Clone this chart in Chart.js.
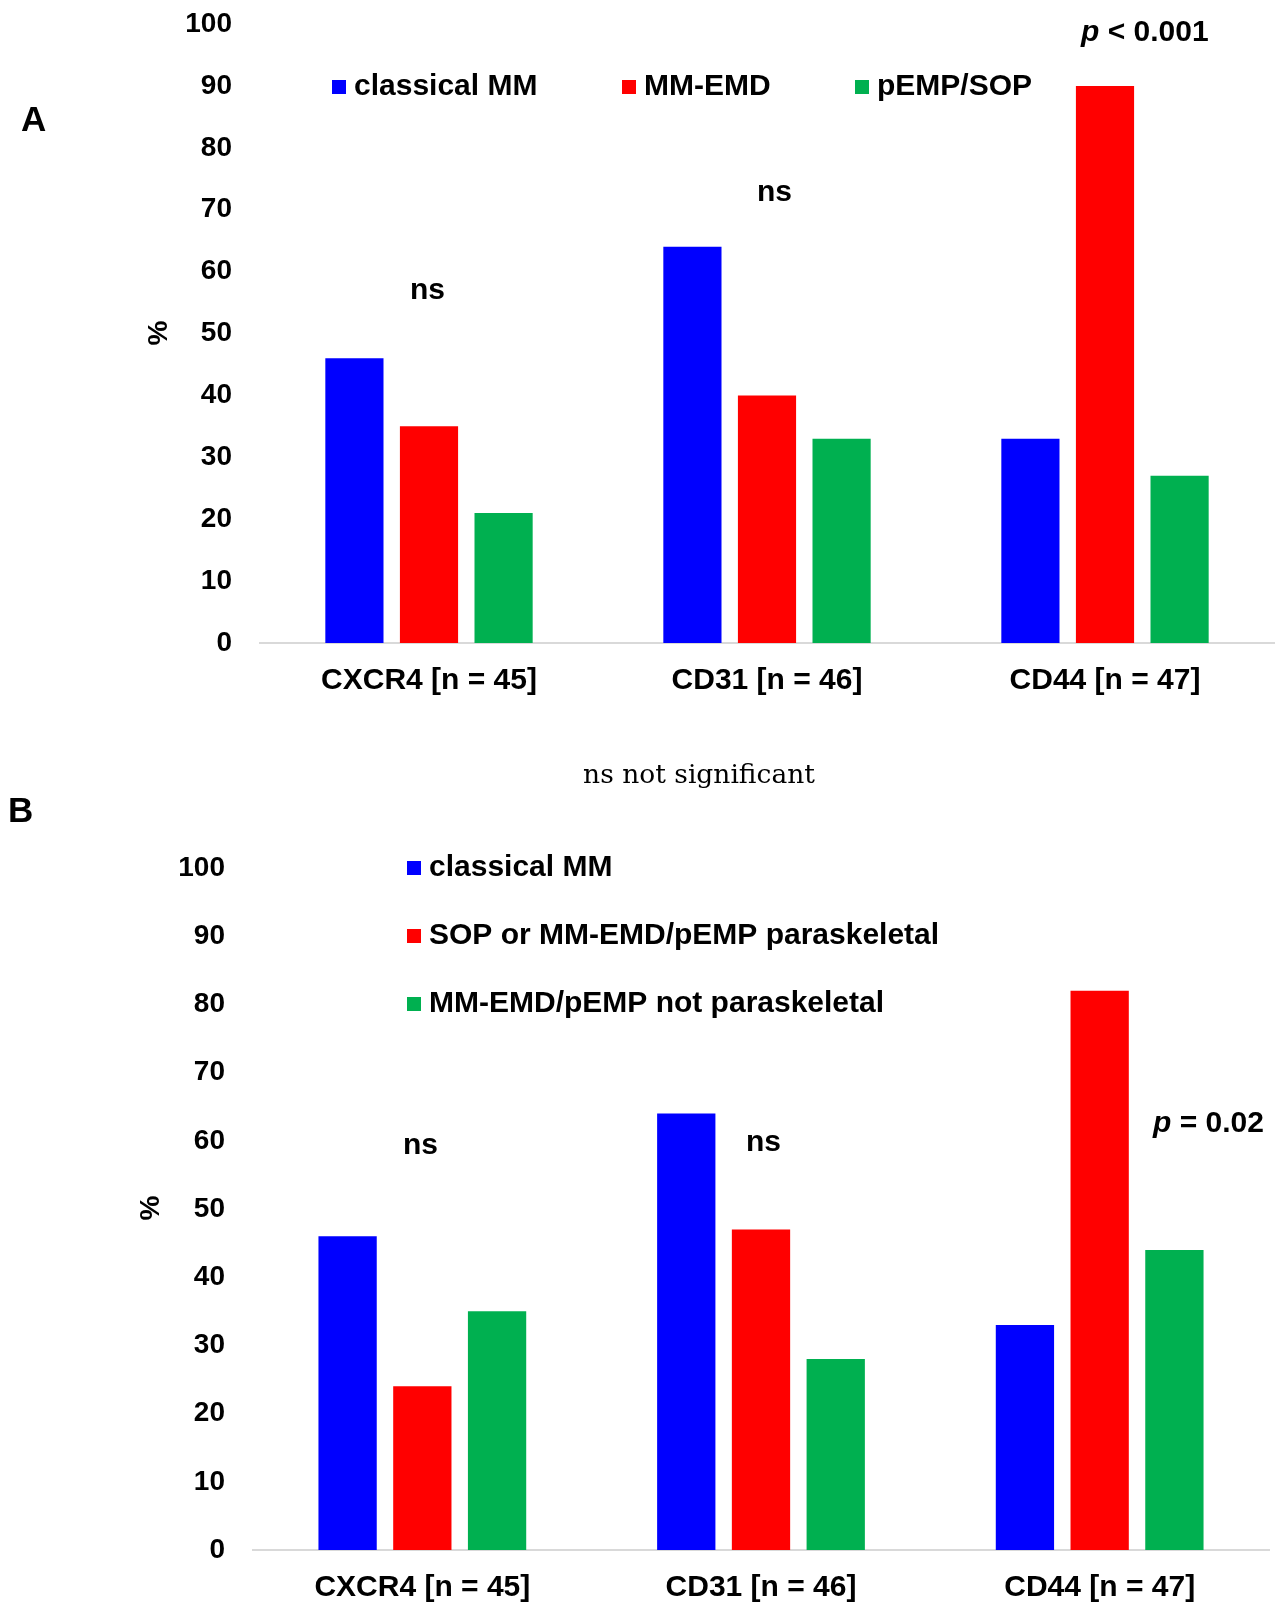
<!DOCTYPE html>
<html>
<head>
<meta charset="utf-8">
<title>CXCR4 / CD31 / CD44</title>
<script src="https://cdn.jsdelivr.net/npm/chart.js@4.4.1/dist/chart.umd.min.js"></script>
<style>
  body { margin: 0; background: #fff; }
  #page { position: relative; width: 1276px; height: 1604px; overflow: hidden; }
  .box { position: absolute; left: 0; width: 1276px; }
  .letter { position: absolute; font: bold 35px "Liberation Sans", Arial, sans-serif; line-height: 40px; }
  #note { position: absolute; left: 0; width: 1398px; top: 757px; text-align: center;
          font: 26.5px "DejaVu Serif", serif; line-height: 34px; color: #000; }
</style>
</head>
<body>
<div id="page">
  <div class="box" style="top:0; height:720px;"><canvas id="chartA"></canvas></div>
  <div class="box" style="top:760px; height:844px;"><canvas id="chartB"></canvas></div>
  <div class="letter" style="left:21px; top:99px;">A</div>
  <div class="letter" style="left:8px; top:790px;">B</div>
  <div id="note">ns not significant</div>
</div>
<script>
// data
var categories = ['CXCR4 [n = 45]', 'CD31 [n = 46]', 'CD44 [n = 47]'];

var labelsA = ['classical MM', 'MM-EMD', 'pEMP/SOP'];
var classicalA = [46, 64, 33];
var mmEmdA = [35, 40, 90];
var pempSopA = [21, 33, 27];

var labelsB = ['classical MM', 'SOP or MM-EMD/pEMP paraskeletal', 'MM-EMD/pEMP not paraskeletal'];
var classicalB = [46, 64, 33];
var paraB = [24, 47, 82];
var notParaB = [35, 28, 44];

var yMin = 0, yMax = 100, yStep = 10;

var colors = ['#0000ff', '#ff0000', '#00b050'];
var FONT = '"Liberation Sans", Arial, sans-serif';

// legend, "ns" / p labels and the "%" title drawn on top of the chart
var textLayer = {
	id: 'textLayer',
	afterDraw: function(chart, args, opts) {
		var ctx = chart.ctx;
		ctx.save();
		ctx.textBaseline = 'middle';
		ctx.textAlign = 'left';

		opts.legend.forEach(function(it, i) {
			var ds = chart.data.datasets[i];
			ctx.fillStyle = ds.backgroundColor;
			ctx.fillRect(it.x, it.y - 7, 14, 14);
			ctx.fillStyle = '#000';
			ctx.font = 'bold 30px ' + FONT;
			ctx.fillText(ds.label, it.x + 22, it.y);
		});

		opts.notes.forEach(function(n) {
			var x = n.x;
			n.parts.forEach(function(p) {
				ctx.font = (p.italic ? 'italic ' : '') + 'bold 30px ' + FONT;
				ctx.fillStyle = '#000';
				ctx.fillText(p.text, x, n.y);
				x += ctx.measureText(p.text).width;
			});
		});

		ctx.translate(opts.title.x, opts.title.y);
		ctx.rotate(-Math.PI / 2);
		ctx.textAlign = 'center';
		ctx.font = 'bold 28px ' + FONT;
		ctx.fillText('%', 0, 0);
		ctx.restore();
	}
};

function makeChart(id, labels, series, cfg) {
	return new Chart(document.getElementById(id), {
		type: 'bar',
		data: {
			labels: categories,
			datasets: series.map(function(vals, i) {
				return {
					label: labels[i],
					data: vals,
					backgroundColor: colors[i],
					borderWidth: 0,
					categoryPercentage: 0.662,
					barPercentage: 0.78
				};
			})
		},
		options: {
			responsive: true,
			maintainAspectRatio: false,
			animation: false,
			layout: { padding: { left: 0, right: cfg.right, top: cfg.top, bottom: 0 } },
			plugins: {
				legend: { display: false },
				tooltip: { enabled: false },
				textLayer: cfg.text
			},
			scales: {
				x: {
					grid: { display: false, drawTicks: false },
					border: { display: true, color: '#d9d9d9', width: 2 },
					ticks: { color: '#000', font: { family: FONT, size: 30, weight: 'bold' }, padding: cfg.xPad },
					afterFit: function(scale) { scale.height = cfg.xHeight; }
				},
				y: {
					min: yMin, max: yMax,
					grid: { display: false, drawTicks: false },
					border: { display: false },
					ticks: { stepSize: yStep, color: '#000', font: { family: FONT, size: 28, weight: 'bold' }, padding: 28 },
					afterFit: function(scale) {
						scale.width = cfg.yWidth;
						scale.paddingTop = 0;
						scale.paddingBottom = 0;
					}
				}
			}
		},
		plugins: [textLayer]
	});
}

makeChart('chartA', labelsA, [classicalA, mmEmdA, pempSopA], {
	top: 24, right: 2, xHeight: 77, xPad: 20, yWidth: 260,
	text: {
		legend: [{ x: 332, y: 87 }, { x: 622, y: 87 }, { x: 855, y: 87 }],
		notes: [
			{ x: 410, y: 291, parts: [{ text: 'ns' }] },
			{ x: 757, y: 193, parts: [{ text: 'ns' }] },
			{ x: 1081, y: 33, parts: [{ text: 'p', italic: true }, { text: ' < 0.001' }] }
		],
		title: { x: 159, y: 333 }
	}
});

makeChart('chartB', labelsB, [classicalB, paraB, notParaB], {
	top: 108, right: 7, xHeight: 54, xPad: 20, yWidth: 253,
	text: {
		legend: [{ x: 407, y: 108 }, { x: 407, y: 176 }, { x: 407, y: 244 }],
		notes: [
			{ x: 403, y: 386, parts: [{ text: 'ns' }] },
			{ x: 746, y: 383, parts: [{ text: 'ns' }] },
			{ x: 1153, y: 364, parts: [{ text: 'p', italic: true }, { text: ' = 0.02' }] }
		],
		title: { x: 151, y: 448 }
	}
});
</script>
</body>
</html>
